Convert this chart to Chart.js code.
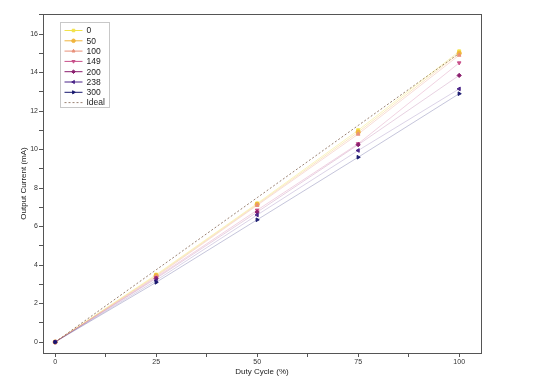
<!DOCTYPE html>
<html>
<head>
<meta charset="utf-8">
<script src="https://cdn.jsdelivr.net/npm/chart.js@4"></script>
<style>
  html, body { margin: 0; padding: 0; background: #fff; }
  #wrap { width: 540px; height: 390px; }
</style>
</head>
<body>
<div id="wrap"><canvas id="chart" width="540" height="390"></canvas></div>
<script>
// Data
const dutyCycle = [0, 25, 50, 75, 100];
const seriesNames = ['0', '50', '100', '149', '200', '238', '300'];
const current0   = [0, 3.50, 7.20, 11.00, 15.10];
const current50  = [0, 3.45, 7.15, 10.90, 15.00];
const current100 = [0, 3.40, 7.10, 10.80, 14.90];
const current149 = [0, 3.35, 6.85, 10.30, 14.50];
const current200 = [0, 3.30, 6.75, 10.25, 13.85];
const current238 = [0, 3.20, 6.60, 9.95, 13.15];
const current300 = [0, 3.10, 6.35, 9.60, 12.90];
const idealCurrent = [0, 3.75, 7.50, 11.25, 15.00];
const yTickLabels = [0, 2, 4, 6, 8, 10, 12, 14, 16];
const xTickLabels = [0, 25, 50, 75, 100];

const FONT = '"Liberation Sans", Arial, sans-serif';
const COLORS = ['#f2e24a', '#f0b43c', '#e8907a', '#c8508a', '#8a1e6e', '#4a2488', '#18186e'];
const FADED = ['rgba(242,226,74,0.35)', 'rgba(240,180,60,0.3)', 'rgba(232,144,122,0.3)',
               'rgba(200,80,138,0.25)', 'rgba(138,30,110,0.2)', 'rgba(74,36,136,0.2)', 'rgba(24,24,110,0.25)'];
const STYLES = [
    { style: 'rect', rot: 0 },
    { style: 'circle', rot: 0 },
    { style: 'triangle', rot: 0 },
    { style: 'triangle', rot: 180 },
    { style: 'rectRot', rot: 0 },
    { style: 'triangle', rot: 270 },
    { style: 'triangle', rot: 90 }
];
const allSeries = [current0, current50, current100, current149, current200, current238, current300];

function makeDataset(i) {
    return {
        label: seriesNames[i],
        data: dutyCycle.map((x, k) => ({ x: x, y: allSeries[i][k] })),
        borderColor: FADED[i],
        backgroundColor: COLORS[i],
        pointBorderColor: COLORS[i],
        pointStyle: STYLES[i].style,
        pointRotation: STYLES[i].rot,
        pointRadius: 2.1,
        borderWidth: 1,
        tension: 0,
        order: 7 - i,   // later series drawn on top
        legendColor: COLORS[i]
    };
}

const datasets = seriesNames.map((n, i) => makeDataset(i));
datasets.push({
    label: 'Ideal',
    data: dutyCycle.map((x, k) => ({ x: x, y: idealCurrent[k] })),
    borderColor: '#9a8272',
    borderDash: [2, 2],
    borderWidth: 1,
    pointRadius: 0,
    tension: 0,
    order: 8,
    legendColor: '#9a8272'
});

const frameAndLegend = {
    id: 'frameAndLegend',
    afterDraw(chart) {
        const ctx = chart.ctx;
        const a = chart.chartArea;
        ctx.save();
        ctx.strokeStyle = '#555';
        ctx.lineWidth = 1;
        ctx.strokeRect(Math.round(a.left) + 0.5, Math.round(a.top) + 0.5,
                       Math.round(a.right - a.left), Math.round(a.bottom - a.top));

        // legend box inside plot, top-left
        const bx = 60.5, by = 22.5, bw = 49, bh = 85;
        ctx.strokeStyle = '#c8c8c8';
        ctx.strokeRect(bx, by, bw, bh);
        ctx.font = '8.5px ' + FONT;
        ctx.textBaseline = 'middle';
        chart.data.datasets.forEach((ds, i) => {
            const y = by + 8 + i * 10.3;
            ctx.strokeStyle = ds.legendColor;
            ctx.lineWidth = 1;
            ctx.setLineDash(ds.borderDash || []);
            ctx.beginPath();
            ctx.moveTo(bx + 4, y);
            ctx.lineTo(bx + 22, y);
            ctx.stroke();
            ctx.setLineDash([]);
            if (ds.pointRadius > 0) {
                ctx.fillStyle = ds.legendColor;
                ctx.strokeStyle = ds.legendColor;
                Chart.helpers.drawPoint(ctx, {
                    pointStyle: ds.pointStyle,
                    rotation: ds.pointRotation,
                    radius: 1.8,
                    borderWidth: 1
                }, bx + 13, y);
            }
            ctx.fillStyle = '#222';
            ctx.fillText(ds.label, bx + 26, y + 0.5);
        });
        ctx.restore();
    }
};

new Chart(document.getElementById('chart').getContext('2d'), {
    type: 'line',
    data: { datasets: datasets },
    plugins: [frameAndLegend],
    options: {
        responsive: false,
        animation: false,
        layout: { padding: { left: 0, top: 14, right: 59, bottom: 0 } },
        plugins: {
            legend: { display: false },
            tooltip: { enabled: false }
        },
        scales: {
            x: {
                type: 'linear',
                min: -3,
                max: 105.4,
                afterFit: function(scale) { scale.height = 37; },
                border: { color: '#555' },
                grid: { drawOnChartArea: false, tickLength: 4, color: '#555' },
                ticks: {
                    stepSize: 12.5,
                    includeBounds: false,
                    padding: 1,
                    color: '#333',
                    font: { size: 7, family: FONT },
                    maxRotation: 0,
                    autoSkip: false,
                    callback: v => xTickLabels.includes(v) ? String(v) : ''
                },
                title: {
                    display: true,
                    text: 'Duty Cycle (%)',
                    color: '#222',
                    font: { size: 8, family: FONT },
                    padding: { top: 13, bottom: 13 }
                }
            },
            y: {
                min: -0.57,
                max: 17.04,
                afterFit: function(scale) { scale.width = 43; },
                border: { color: '#555' },
                grid: { drawOnChartArea: false, tickLength: 4, color: '#555' },
                ticks: {
                    stepSize: 1,
                    includeBounds: false,
                    padding: 1,
                    color: '#333',
                    font: { size: 7, family: FONT },
                    autoSkip: false,
                    callback: v => yTickLabels.includes(v) ? String(v) : ''
                },
                title: {
                    display: true,
                    text: 'Output Current (mA)',
                    color: '#222',
                    font: { size: 8, family: FONT },
                    padding: { top: 19, bottom: 19 }
                }
            }
        }
    }
});
</script>
</body>
</html>
